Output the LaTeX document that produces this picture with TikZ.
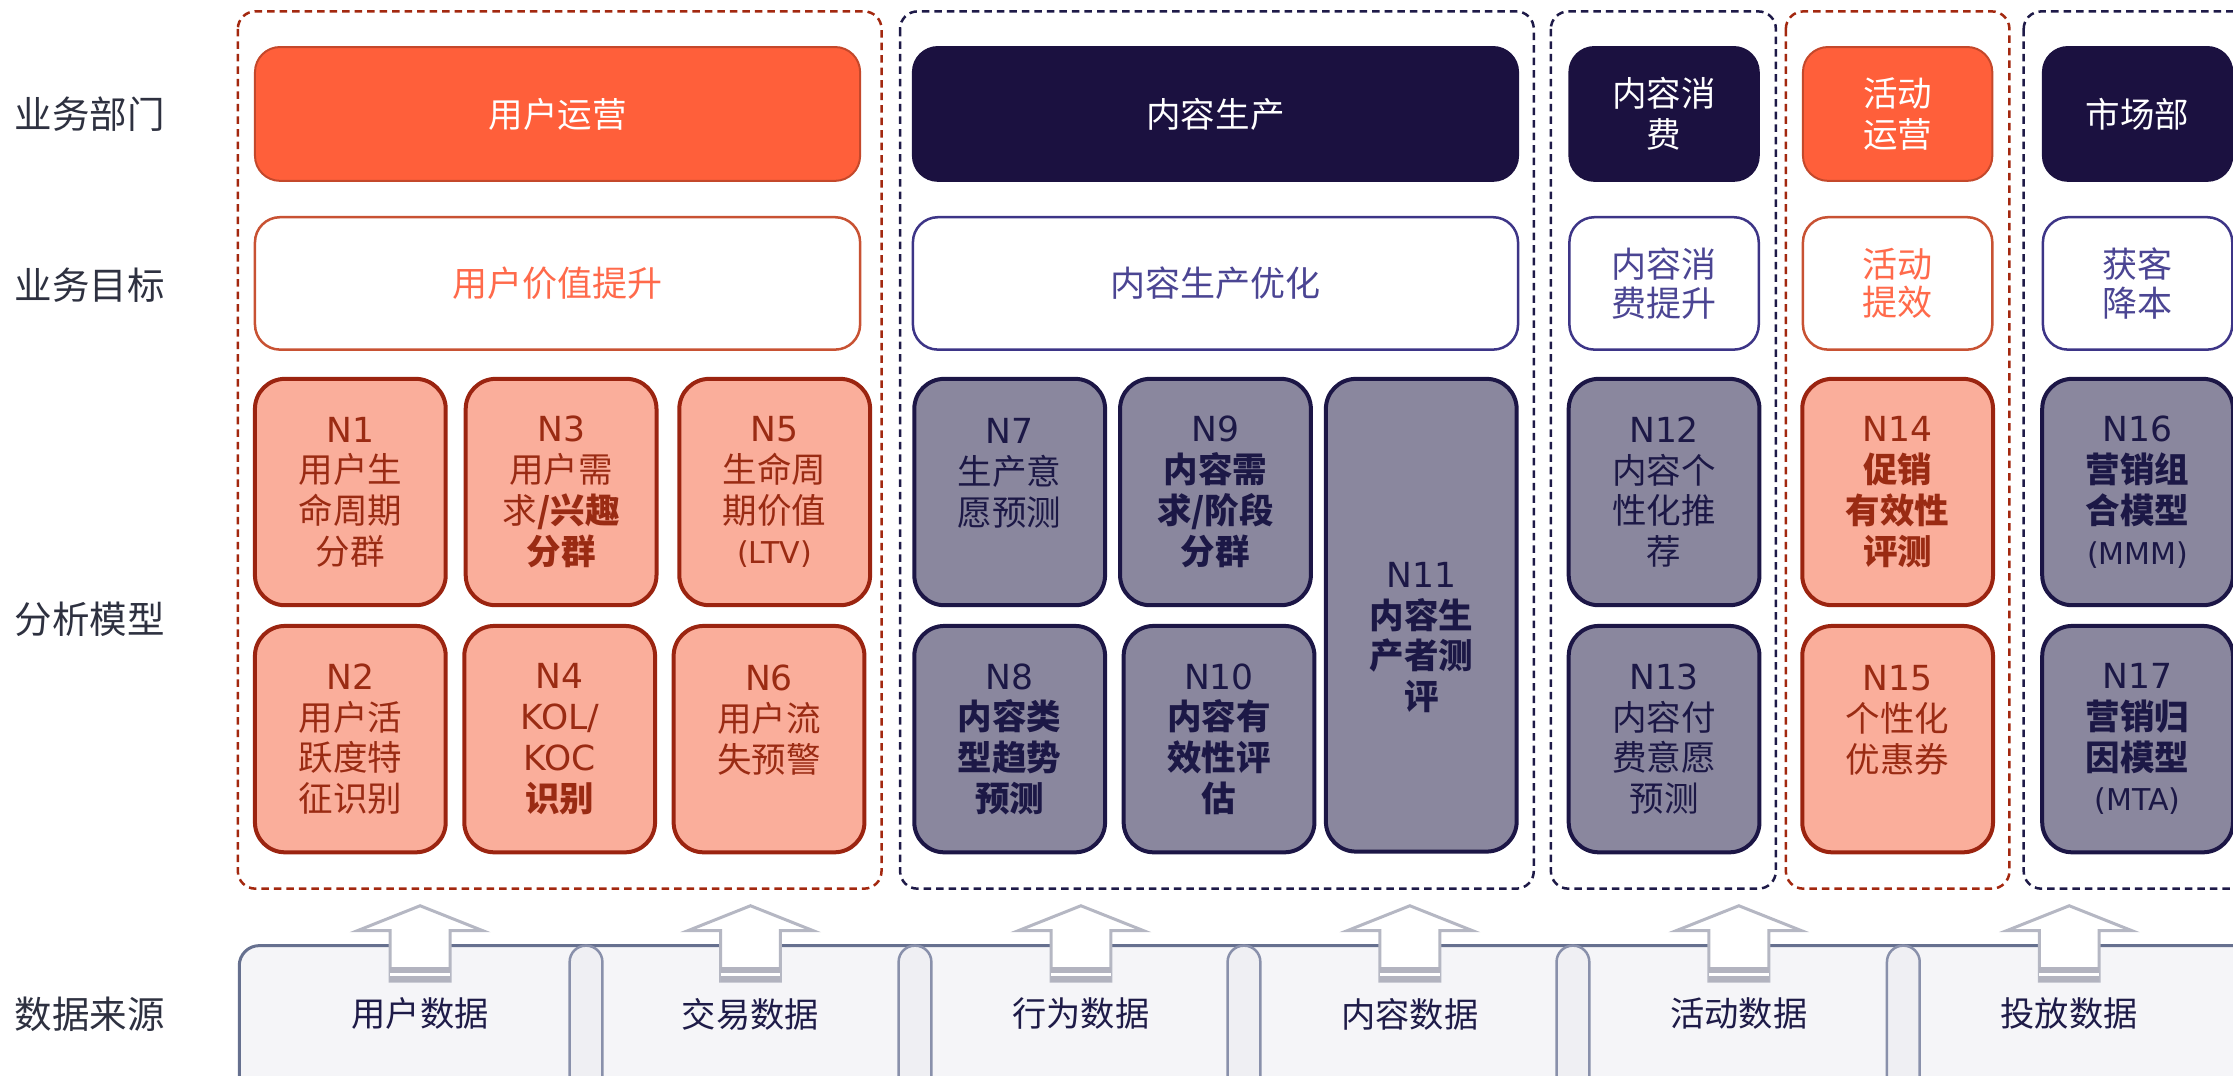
\documentclass[tikz,border=0pt]{standalone}
\usepackage{fontspec}
\setmainfont{Noto Sans CJK SC}
\newfontfamily\latin{DejaVu Sans}

\definecolor{sideText}{HTML}{2E3140}
\definecolor{orgFill}{HTML}{FF5F3A}
\definecolor{orgLine}{HTML}{C4482B}
\definecolor{navyFill}{HTML}{1B1140}
\definecolor{goalRLine}{HTML}{C85233}
\definecolor{goalRText}{HTML}{FF6A4B}
\definecolor{goalNLine}{HTML}{3D3587}
\definecolor{goalNText}{HTML}{4B4593}
\definecolor{modRFill}{HTML}{FAAE9B}
\definecolor{modRLine}{HTML}{9B2410}
\definecolor{modRText}{HTML}{9A2B13}
\definecolor{modNFill}{HTML}{8A879E}
\definecolor{modNLine}{HTML}{1C1646}
\definecolor{modNText}{HTML}{1C1846}
\definecolor{grpRLine}{HTML}{A3280F}
\definecolor{grpNLine}{HTML}{1E1A48}
\definecolor{barFill}{HTML}{F5F5F8}
\definecolor{barLine}{HTML}{66708F}
\definecolor{capFill}{HTML}{EFEFF3}
\definecolor{capLine}{HTML}{8990AB}
\definecolor{arrLine}{HTML}{B5B7C3}
\definecolor{stripeCol}{HTML}{B2B3BF}
\definecolor{dataText}{HTML}{1E1B48}

\tikzset{
  sidelbl/.style={anchor=west, inner sep=0pt, text=sideText, font=\fontsize{15}{18}\selectfont},
  dept/.style={inner sep=0pt, minimum height=1.88cm, rounded corners=10pt, line width=0.8pt,
    text=white, align=center, font=\fontsize{13.8}{16.5}\selectfont},
  deptR/.style={dept, fill=orgFill, draw=orgLine},
  deptN/.style={dept, fill=navyFill, draw=navyFill},
  goal/.style={inner sep=0pt, minimum height=1.86cm, rounded corners=10pt, line width=1pt,
    fill=white, align=center, font=\fontsize{14}{15.5}\selectfont},
  goalR/.style={goal, draw=goalRLine, text=goalRText},
  goalN/.style={goal, draw=goalNLine, text=goalNText},
  model/.style={inner sep=0pt, minimum width=2.68cm, minimum height=3.18cm, rounded corners=12pt,
    line width=1.6pt, align=center, font=\fontsize{13.8}{16.3}\selectfont},
  modR/.style={model, fill=modRFill, draw=modRLine, text=modRText},
  modN/.style={model, fill=modNFill, draw=modNLine, text=modNText},
  wide/.style={minimum width=8.5cm},
  narrow/.style={minimum width=2.66cm},
  grpR/.style={draw=grpRLine, line width=1pt, dash pattern=on 3pt off 2pt, rounded corners=7pt},
  grpN/.style={draw=grpNLine, line width=1pt, dash pattern=on 3pt off 2pt, rounded corners=7pt},
  bar/.style={fill=barFill, draw=barLine, line width=1.2pt, rounded corners=8pt},
  segcap/.style={fill=capFill, draw=capLine, line width=1pt, rounded corners=6.5pt},
  blockarr/.style={fill=white, draw=arrLine, line width=1.2pt},
  stripe/.style={draw=stripeCol, line width=2.4pt, double=white, double distance=1.1pt},
  datalbl/.style={inner sep=0pt, text=dataText, font=\fontsize{13.7}{16}\selectfont},
}

\begin{document}
\begin{tikzpicture}[x=0.02cm, y=-0.02cm]
        \useasboundingbox (0,0) rectangle (1568,755);
        \clip (0,0) rectangle (1568,755);

        % row titles
        \node[sidelbl] (lDept) at (10,80) {业务部门};
        \node[sidelbl] (lGoal) at (10,200) {业务目标};
        \node[sidelbl] (lModel) at (10,435) {分析模型};
        \node[sidelbl] (lData) at (10,712) {数据来源};

        % dashed groups
        \draw[grpR] (167,8) rectangle (619,624);
        \draw[grpN] (632,8) rectangle (1077,624);
        \draw[grpN] (1089,8) rectangle (1247,624);
        \draw[grpR] (1254,8) rectangle (1411,624);
        \draw[grpN] (1421,8) rectangle (1600,624);

        % departments
        \node[deptR, wide] (dpUser) at (391.5,80) {用户运营};
        \node[deptN, wide] (dpProd) at (853.5,80) {内容生产};
        \node[deptN, narrow] (dpCons) at (1168.5,80) {内容消\\费};
        \node[deptR, narrow] (dpAct) at (1332.5,80) {活动\\运营};
        \node[deptN, narrow] (dpMkt) at (1501,80) {市场部};

        % goals
        \node[goalR, wide] (gUser) at (391.5,199) {用户价值提升};
        \node[goalN, wide] (gProd) at (853.5,199) {内容生产优化};
        \node[goalN, narrow] (gCons) at (1168.5,199) {内容消\\费提升};
        \node[goalR, narrow] (gAct) at (1332.5,199) {活动\\提效};
        \node[goalN, narrow] (gMkt) at (1501,199) {获客\\降本};

        % models, top row
        \node[modR] (n1) at (246,345.5) {{\latin N1}\\用户生\\命周期\\分群};
        \node[modR] (n3) at (394,345.5) {{\latin N3}\\用户需\\求\textbf{/兴趣}\\\textbf{分群}};
        \node[modR] (n5) at (544,345.5) {{\latin N5}\\生命周\\期价值\\{\latin\fontsize{12}{16.3}\selectfont (LTV)}};
        \node[modN] (n7) at (709,345.5) {{\latin N7}\\生产意\\愿预测\\\mbox{}};
        \node[modN] (n9) at (853.5,345.5) {{\latin N9}\\\textbf{内容需}\\\textbf{求/阶段}\\\textbf{分群}};
        \node[modN, minimum height=6.64cm] (n11) at (998,432) {\phantom{内}\\{\latin N11}\\\textbf{内容生}\\\textbf{产者测}\\\textbf{评}};
        \node[modN] (n12) at (1168.5,345.5) {{\latin N12}\\内容个\\性化推\\荐};
        \node[modR] (n14) at (1332.5,345.5) {{\latin N14}\\\textbf{促销}\\\textbf{有效性}\\\textbf{评测}};
        \node[modN] (n16) at (1501,345.5) {{\latin N16}\\\textbf{营销组}\\\textbf{合模型}\\{\latin\fontsize{12}{16.3}\selectfont (MMM)}};

        % models, bottom row
        \node[modR] (n2) at (246,519) {{\latin N2}\\用户活\\跃度特\\征识别};
        \node[modR] (n4) at (393,519) {{\latin N4}\\{\latin KOL/}\\{\latin KOC}\\\textbf{识别}};
        \node[modR] (n6) at (540,519) {{\latin N6}\\用户流\\失预警\\\mbox{}};
        \node[modN] (n8) at (709,519) {{\latin N8}\\\textbf{内容类}\\\textbf{型趋势}\\\textbf{预测}};
        \node[modN] (n10) at (856,519) {{\latin N10}\\\textbf{内容有}\\\textbf{效性评}\\\textbf{估}};
        \node[modN] (n13) at (1168.5,519) {{\latin N13}\\内容付\\费意愿\\预测};
        \node[modR] (n15) at (1332.5,519) {{\latin N15}\\个性化\\优惠券\\\mbox{}};
        \node[modN] (n17) at (1501,519) {{\latin N17}\\\textbf{营销归}\\\textbf{因模型}\\{\latin\fontsize{12}{16.3}\selectfont (MTA)}};

        % data source bar
        \draw[bar] (168,664) rectangle (1620,820);
        \draw[segcap] (400,664) rectangle (423,820);
        \draw[segcap] (631,664) rectangle (654,820);
        \draw[segcap] (862,664) rectangle (885,820);
        \draw[segcap] (1093,664) rectangle (1116,820);
        \draw[segcap] (1325,664) rectangle (1348,820);

        \node[datalbl] (dUser) at (295,712) {用户数据};
        \node[datalbl] (dTrade) at (527,712) {交易数据};
        \node[datalbl] (dAct) at (759,712) {行为数据};
        \node[datalbl] (dCont) at (990,712) {内容数据};
        \node[datalbl] (dEvent) at (1221,712) {活动数据};
        \node[datalbl] (dAds) at (1453,712) {投放数据};

        % up arrows
        \draw[blockarr] (dUser |- 0,689) -- ++(-21,0) -- ++(0,-35.5) -- ++(-23,0) -- ++(44,-17.5) -- ++(44,17.5) -- ++(-23,0) -- ++(0,35.5) -- cycle;
        \draw[blockarr] (dTrade |- 0,689) -- ++(-21,0) -- ++(0,-35.5) -- ++(-23,0) -- ++(44,-17.5) -- ++(44,17.5) -- ++(-23,0) -- ++(0,35.5) -- cycle;
        \draw[blockarr] (dAct |- 0,689) -- ++(-21,0) -- ++(0,-35.5) -- ++(-23,0) -- ++(44,-17.5) -- ++(44,17.5) -- ++(-23,0) -- ++(0,35.5) -- cycle;
        \draw[blockarr] (dCont |- 0,689) -- ++(-21,0) -- ++(0,-35.5) -- ++(-23,0) -- ++(44,-17.5) -- ++(44,17.5) -- ++(-23,0) -- ++(0,35.5) -- cycle;
        \draw[blockarr] (dEvent |- 0,689) -- ++(-21,0) -- ++(0,-35.5) -- ++(-23,0) -- ++(44,-17.5) -- ++(44,17.5) -- ++(-23,0) -- ++(0,35.5) -- cycle;
        \draw[blockarr] (dAds |- 0,689) -- ++(-21,0) -- ++(0,-35.5) -- ++(-23,0) -- ++(44,-17.5) -- ++(44,17.5) -- ++(-23,0) -- ++(0,35.5) -- cycle;

        \draw[stripe] (dUser |- 0,684.3) ++(-21,0) -- ++(42,0);
        \draw[stripe] (dTrade |- 0,684.3) ++(-21,0) -- ++(42,0);
        \draw[stripe] (dAct |- 0,684.3) ++(-21,0) -- ++(42,0);
        \draw[stripe] (dCont |- 0,684.3) ++(-21,0) -- ++(42,0);
        \draw[stripe] (dEvent |- 0,684.3) ++(-21,0) -- ++(42,0);
        \draw[stripe] (dAds |- 0,684.3) ++(-21,0) -- ++(42,0);
\end{tikzpicture}
\end{document}
